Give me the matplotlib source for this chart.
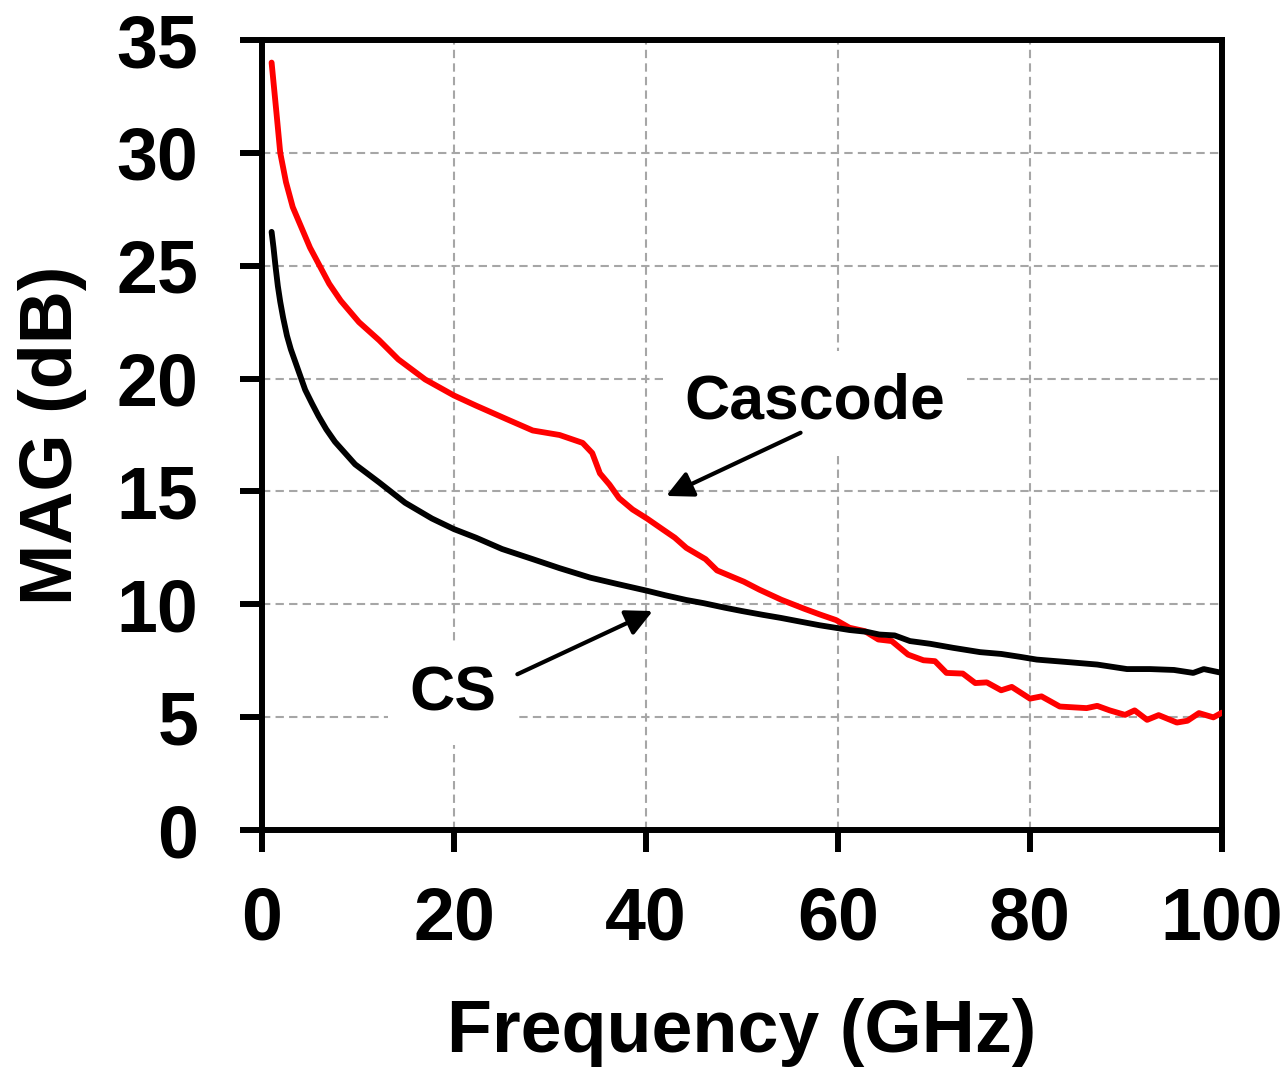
import numpy as np
import matplotlib.pyplot as plt

plt.rcParams['font.family'] = ['Liberation Sans', 'DejaVu Sans']
plt.rcParams['font.weight'] = 'bold'

# Cascode (red)
f_cas = [1.0, 1.5, 1.9, 2.5, 3.2, 4.0, 5.0, 6.0, 7.0, 8.2, 10.1, 12.2, 14.2, 17.0,
         20.0, 22.3, 25.5, 28.2, 31.0, 33.4, 34.4, 35.2, 36.2, 37.2, 38.6, 40.1,
         41.8, 43.0, 44.2, 46.2, 47.4, 50.2, 51.8, 54.1, 56.5, 58.1, 59.8, 61.2,
         62.8, 64.2, 65.6, 67.3, 68.9, 70.1, 71.3, 73.0, 74.3, 75.5, 77.0, 78.1,
         80.0, 81.2, 83.1, 85.9, 87.0, 88.3, 89.9, 90.9, 92.2, 93.4, 95.3, 96.4,
         97.6, 99.1, 100.0]
mag_cas = [34.0, 31.8, 30.0, 28.7, 27.6, 26.8, 25.8, 25.0, 24.2, 23.45, 22.5, 21.7, 20.85, 19.96,
           19.25, 18.8, 18.2, 17.7, 17.5, 17.15, 16.7, 15.8, 15.3, 14.7, 14.2, 13.8,
           13.3, 12.95, 12.5, 12.0, 11.5, 11.0, 10.65, 10.2, 9.8, 9.55, 9.3, 8.96,
           8.81, 8.44, 8.37, 7.77, 7.52, 7.48, 6.96, 6.93, 6.51, 6.54, 6.19, 6.34,
           5.82, 5.92, 5.47, 5.4, 5.5, 5.3, 5.1, 5.3, 4.88, 5.09, 4.76, 4.84,
           5.18, 4.99, 5.2]

# Common source (black)
f_cs = [1.0, 1.2, 1.4, 1.65, 1.9, 2.2, 2.6, 3.0, 3.5, 4.0, 4.5, 5.2, 5.9, 6.7, 7.6,
        9.7, 12.2, 14.9, 17.7, 20.0, 22.3, 25.0, 28.2, 31.0, 34.2, 37.0, 40.1,
        42.0, 44.2, 46.0, 48.2, 50.0, 52.2, 54.0, 56.1, 58.1, 61.2, 63.0, 64.3,
        65.9, 67.5, 69.6, 72.0, 74.8, 77.0, 79.0, 80.7, 84.2, 87.0, 90.1, 92.5,
        95.0, 97.0, 98.1, 100.0]
mag_cs = [26.5, 25.8, 25.0, 24.1, 23.4, 22.7, 21.9, 21.3, 20.7, 20.1, 19.5, 18.9, 18.33, 17.75, 17.2,
          16.2, 15.4, 14.5, 13.8, 13.33, 12.95, 12.45, 12.0, 11.6, 11.18, 10.9, 10.6,
          10.4, 10.19, 10.05, 9.85, 9.7, 9.53, 9.4, 9.23, 9.07, 8.86, 8.78, 8.66,
          8.62, 8.37, 8.25, 8.07, 7.88, 7.8, 7.67, 7.55, 7.43, 7.33, 7.13, 7.13,
          7.09, 6.96, 7.13, 6.96]

fig = plt.figure(figsize=(12.87, 10.70), dpi=100)
ax = fig.add_axes([262/1287, 1 - 830/1070, 960/1287, 790/1070])

ax.plot(f_cas, mag_cas, color='#ff0000', lw=4.2, zorder=4,
        solid_capstyle='round', solid_joinstyle='round')
ax.plot(f_cs, mag_cs, color='black', lw=4.2, zorder=4,
        solid_capstyle='round', solid_joinstyle='round')

ax.set_xlim(0, 100)
ax.set_ylim(0, 35)
ax.set_xticks(np.arange(0, 101, 20))
ax.set_yticks(np.arange(0, 36, 5))
ax.grid(True, color='#a6a6a6', linestyle=(0, (4, 2.5)), lw=1.5, zorder=1)
ax.set_axisbelow(True)

for s in ax.spines.values():
    s.set_linewidth(4.3)
    s.set_color('black')
ax.tick_params(direction='out', length=16, width=4.3, labelsize=53)
ax.tick_params(axis='x', pad=24)
ax.tick_params(axis='y', pad=30)

ax.set_xlabel('Frequency (GHz)', fontsize=53, fontweight='bold', labelpad=31)
ax.set_ylabel('MAG (dB)', fontsize=53, fontweight='bold', labelpad=21)

box = dict(boxstyle='square,pad=0.35', fc='white', ec='none')
ax.text(57.6, 18.95, 'Cascode', fontsize=45, fontweight='bold', ha='center', va='center',
        bbox=box, zorder=3)
ax.text(19.9, 6.03, 'CS', fontsize=45, fontweight='bold', ha='center', va='center',
        bbox=box, zorder=3)

arrow = dict(arrowstyle='-|>', lw=3, color='black', mutation_scale=40, shrinkA=0, shrinkB=0)
ax.annotate('', xy=(42.1, 14.8), xytext=(56.1, 17.6), arrowprops=arrow, zorder=5)
ax.annotate('', xy=(40.7, 9.7), xytext=(26.6, 6.9), arrowprops=arrow, zorder=5)

fig.savefig('out.png', dpi=100)
